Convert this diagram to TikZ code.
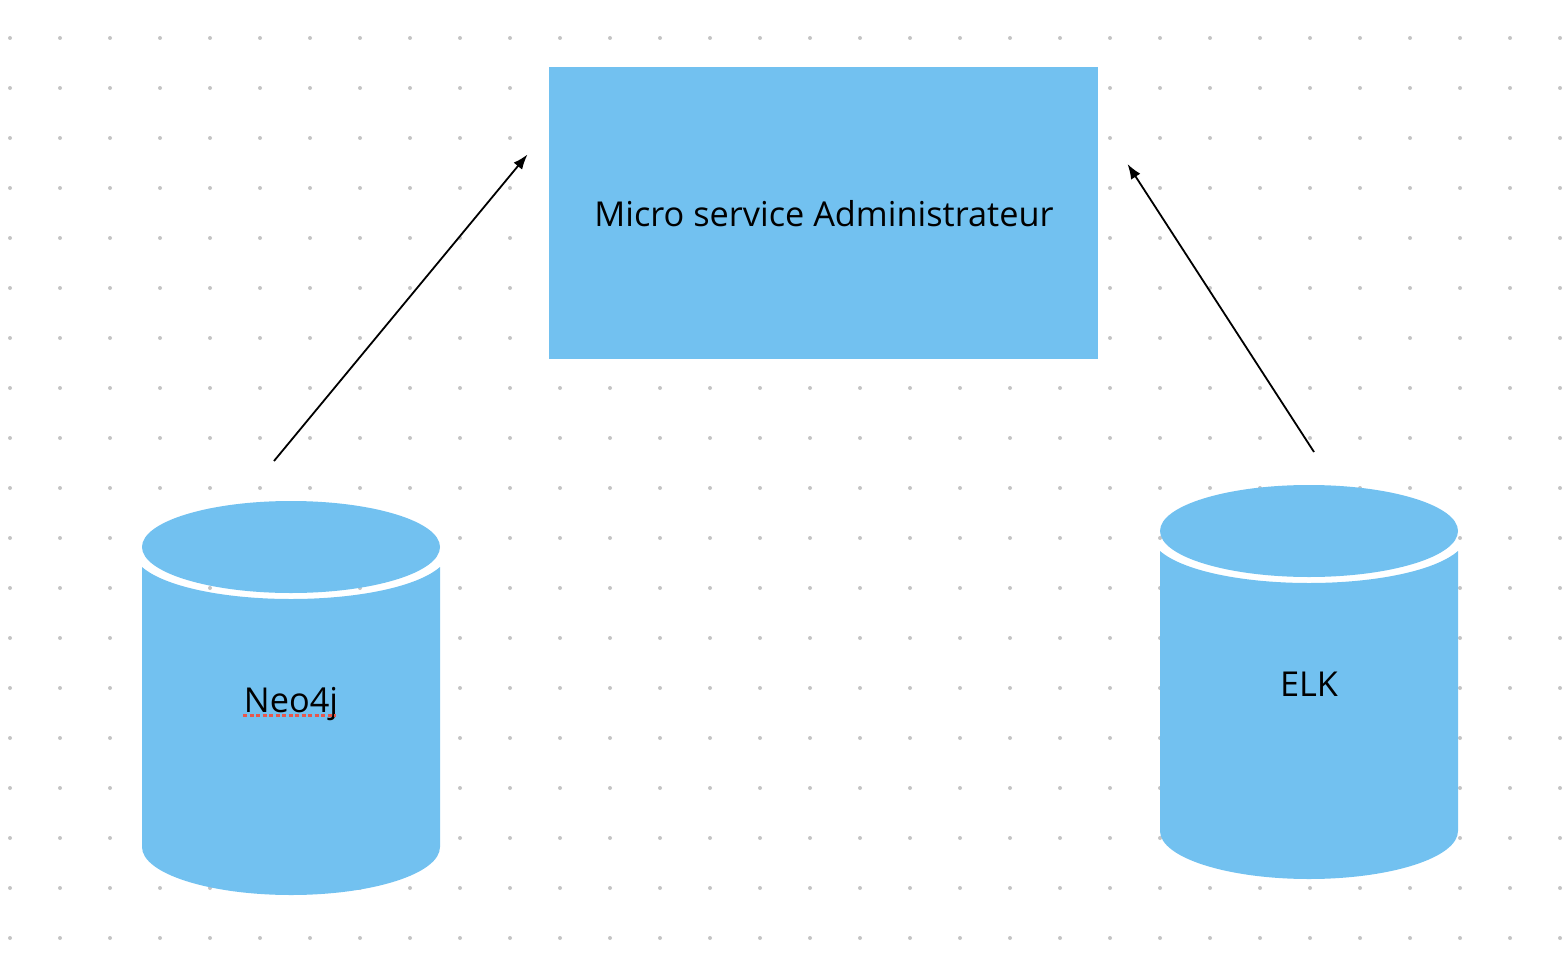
\documentclass[tikz,border=0pt]{standalone}
\usepackage{fontspec}
\setmainfont{Open Sans}
\definecolor{B}{RGB}{114,193,240}
\definecolor{D}{RGB}{196,196,196}
\definecolor{S}{RGB}{232,87,76}
\newcommand{\labelfont}{\fontsize{34.3}{40}\selectfont}
\newcommand{\drawdots}{
    \foreach \x in {0,...,31}{
      \foreach \y in {0,...,18}{
        \fill[D] (10+50*\x,38+50*\y) circle (2);
      }
    }
}
\newcommand{\drawcyl}[4]{
    \begin{scope}[shift={(#2,#3)}]
    \fill[B] (0,66) .. controls (23,86) and (83,98) .. (149,98)
        .. controls (215,98) and (275,86) .. (298,66)
        -- (298,346) .. controls (298,372.5) and (231,394) .. (149,394)
        .. controls (67,394) and (0,372.5) .. (0,346) -- cycle;
    \fill[B] (149,46) ellipse [x radius=149, y radius=46];
    \node[textlabel] (#1) at (149,#4) {#1};
    \end{scope}
}
\tikzset{
    textlabel/.style={inner sep=0pt,anchor=base,font=\labelfont,text=black},
    servicebox/.style={fill=B,inner sep=0pt,font=\labelfont},
    link/.style={-{Latex[length=15,width=11]},line width=1.8}
}
\usetikzlibrary{arrows.meta}
\begin{document}
\begin{tikzpicture}[x=1pt,y=-1pt]
\useasboundingbox (0,0) rectangle (1566,966);
\drawdots
\node[servicebox,minimum width=549pt,minimum height=292pt] (admin) at (823.5,213) {};
\node[textlabel] (admintext) at (824,226) {Micro service Administrateur};
\drawcyl{Neo4j}{142}{501}{211}
\drawcyl{ELK}{1160}{485}{211}
\draw[S,line width=3pt,dash pattern=on 4pt off 2.5pt] (243,715)--(336,715);
\coordinate (neofrom) at (274,461);
\coordinate (neoto) at (527.5,154.5);
\coordinate (elkfrom) at (1314,452);
\coordinate (elkto) at (1127.5,164);
\draw[link] (neofrom)--(neoto);
\draw[link] (elkfrom)--(elkto);
\end{tikzpicture}
\end{document}
